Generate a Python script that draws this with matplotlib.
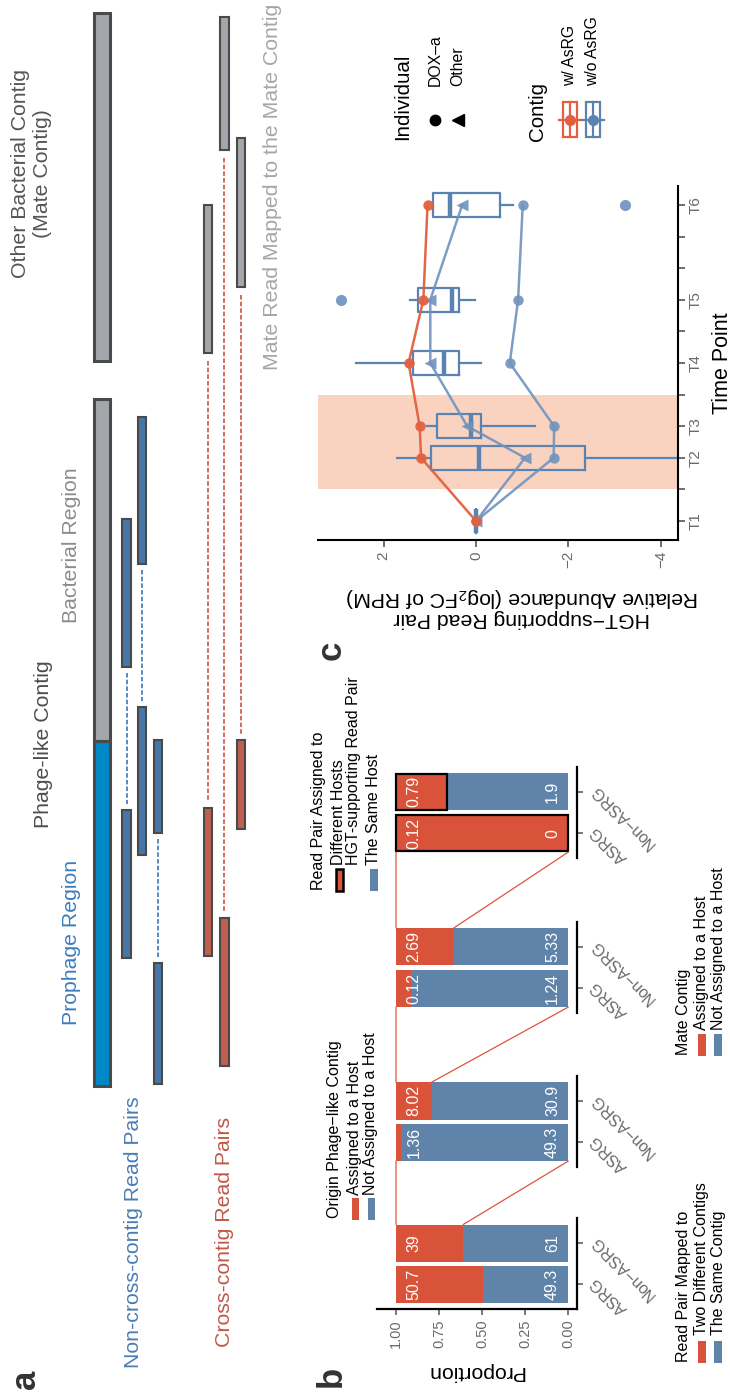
import matplotlib
matplotlib.use("Agg")
import matplotlib.pyplot as plt
from matplotlib.patches import Rectangle, ConnectionPatch

plt.rcParams['font.family'] = ['Liberation Sans', 'DejaVu Sans']
plt.rcParams['mathtext.fontset'] = 'custom'
plt.rcParams['mathtext.rm'] = 'Liberation Sans'
plt.rcParams['mathtext.it'] = 'Liberation Sans:italic'
plt.rcParams['mathtext.bf'] = 'Liberation Sans:bold'

# ---------------- Panel a : schematic (positions along the contigs) ----------------
mate_contig = (13, 361)
bacterial_region = (399, 741)
prophage_region = (741, 1086)
noncross_read1 = [(519, 667), (417, 564), (740, 833)]
noncross_read2 = [(810, 958), (707, 855), (963, 1084)]
cross_read = [(808, 956), (918, 1066), (740, 829)]
cross_mate = [(205, 353), (17, 150), (138, 287)]

# ---------------- Panel b ----------------
pair_groups = ['ASRG', 'Non−ASRG']
mapped_two_contigs = [50.7, 39]
mapped_same_contig = [49.3, 61]
origin_assigned = [1.36, 8.02]
origin_not_assigned = [49.3, 30.9]
mate_assigned = [0.12, 2.69]
mate_not_assigned = [1.24, 5.33]
hosts_different = [0.12, 0.79]
hosts_same = [0, 1.9]

# ---------------- Panel c ----------------
time_points = ['T1', 'T2', 'T3', 'T4', 'T5', 'T6']
time_days = [0, 2, 3, 5, 7, 10]
dox_with_asrg = [0, 1.19, 1.22, 1.46, 1.14, 1.05]
dox_without_asrg = [0, -1.68, -1.69, -0.73, -0.91, -1.01]
other_without_asrg = [0, -1.06, 0.19, 0.99, 0.99, 0.30]
box_whislo = [0, -4.8, -1.27, -0.11, 0.03, -0.81]
box_q1 = [0, -2.36, -0.11, 0.37, 0.37, -0.52]
box_med = [0, -0.06, 0.11, 0.70, 0.52, 0.57]
box_q3 = [0, 0.97, 0.84, 1.36, 1.25, 0.93]
box_whishi = [0, 1.72, 1.07, 2.60, 1.43, 0.93]
box_outliers = [[], [], [], [], [2.93], [-3.22]]
treatment_period = (1, 4)

# ---------------- styling ----------------
W, H = 730, 1394
EDGE = '#4A4A4A'
GRAY = '#A3A6AA'
PROPHAGE = '#0087C6'
READ_BLUE = '#4677A8'
READ_RED = '#BF5F4F'
DASH_BLUE = '#4B80BF'
DASH_RED = '#D0604F'
RED_B = '#D9533A'
BLUE_B = '#6083AA'
RED_C = '#E2603F'
BLUE_C = '#5A83B1'
BLUE_LINE = '#7093BE'
SHADE = '#FAD3C0'
TICKCOL = '#6A6A6A'

fig = plt.figure(figsize=(W / 100, H / 100), dpi=100)
fig.patch.set_facecolor('white')


def rect(x0, y0, x1, y1):
    return [x0 / W, 1 - y1 / H, (x1 - x0) / W, (y1 - y0) / H]


# ================= Panel a =================
axA = fig.add_axes([0, 0, 300 / W, 1])
axA.set_xlim(0, 300)
axA.set_ylim(H, 0)
axA.axis('off')

CONTIG_X, CONTIG_W = 101.9, 16
READ_W = 8.5


def seg(ax, xc, span, w, color, lw=1.5):
    ax.add_patch(Rectangle((xc - w / 2, span[0]), w, span[1] - span[0],
                           facecolor=color, edgecolor=EDGE, lw=lw))


seg(axA, CONTIG_X, mate_contig, CONTIG_W, GRAY, 2.2)
seg(axA, CONTIG_X, bacterial_region, CONTIG_W, GRAY, 2.2)
seg(axA, CONTIG_X, prophage_region, CONTIG_W, PROPHAGE, 2.2)

dash = (0, (2.5, 1.2))
for xc, r1, r2 in zip([126.7, 141.8, 158.0], noncross_read1, noncross_read2):
    axA.plot([xc, xc], [r1[1] + 6, r2[0] - 6], color=DASH_BLUE, lw=1.3, ls=dash)
    seg(axA, xc, r1, READ_W, READ_BLUE)
    seg(axA, xc, r2, READ_W, READ_BLUE)
for xc, rd, mt in zip([208.0, 224.3, 240.8], cross_read, cross_mate):
    axA.plot([xc, xc], [mt[1] + 8, rd[0] - 6], color=DASH_RED, lw=1.3, ls=dash)
    seg(axA, xc, rd, READ_W, READ_RED)
    seg(axA, xc, mt, READ_W, GRAY)

ta = dict(rotation=90, ha='center', va='center', fontsize=15.3)
axA.text(31.5, 173.5, 'Other Bacterial Contig\n(Mate Contig)', color='#555555',
         multialignment='center', linespacing=1.15, **ta)
axA.text(43.3, 744, 'Phage-like Contig', color='#4D4D4D', **ta)
axA.text(71.7, 545, 'Bacterial Region', color='#8C8C8C', **ta)
axA.text(71.7, 942, 'Prophage Region', color='#3C7DBE', **ta)
axA.text(273, 187, 'Mate Read Mapped to the Mate Contig', color='#A6A6A6', **ta)
axA.text(133.3, 1232, 'Non-cross-contig Read Pairs', color='#4A7DB5', **ta)
axA.text(224, 1232, 'Cross-contig Read Pairs', color='#C0584A', **ta)

# ================= Panel b =================
facets = [(mapped_two_contigs, mapped_same_contig),
          (origin_assigned, origin_not_assigned),
          (mate_assigned, mate_not_assigned),
          (hosts_different, hosts_same)]
facet_px = [(1218.3, 1309.3), (1076.0, 1167.3), (921.7, 1013.3), (766.7, 858.3)]
b_axes = []
blue_fracs = []
for i, ((red_vals, blue_vals), (top, bot)) in enumerate(zip(facets, facet_px)):
    ax = fig.add_axes(rect(376.7, top, 577.3, bot))
    ax.patch.set_alpha(0)
    ypos = list(range(len(pair_groups)))
    totals = [r + b for r, b in zip(red_vals, blue_vals)]
    bf = [b / t for b, t in zip(blue_vals, totals)]
    rf = [r / t for r, t in zip(red_vals, totals)]
    blue_fracs.append(bf)
    ax.barh(ypos, bf, left=0, height=0.9, color=BLUE_B, lw=0)
    if i == 3:
        ax.barh(ypos, rf, left=bf, height=0.87, color=RED_B, edgecolor='black', lw=1.6)
    else:
        ax.barh(ypos, rf, left=bf, height=0.9, color=RED_B, lw=0)
    for y, r, b in zip(ypos, red_vals, blue_vals):
        ax.text(0.897, y, '%.3g' % r, rotation=90, ha='center', va='center',
                color='white', fontsize=11.5)
        ax.text(0.092, y, '%.3g' % b, rotation=90, ha='center', va='center',
                color='white', fontsize=11.5)
    ax.set_xlim(1.112, -0.052)
    ax.set_ylim(-0.6, 1.6)
    for s in ['left', 'top']:
        ax.spines[s].set_visible(False)
    ax.spines['right'].set_linewidth(1.6)
    ax.yaxis.tick_right()
    ax.set_yticks(ypos)
    ax.set_yticklabels(pair_groups, rotation=135, ha='right', va='top',
                       rotation_mode='anchor', color=TICKCOL, fontsize=11.5)
    ax.tick_params(axis='y', length=4.5, width=1.1, color='#555555', pad=3)
    if i == 0:
        ax.spines['bottom'].set_linewidth(1.6)
        ax.set_xticks([0, 0.25, 0.5, 0.75, 1.0])
        ax.set_xticklabels(['0.00', '0.25', '0.50', '0.75', '1.00'], rotation=90,
                           color=TICKCOL, fontsize=10.5)
        ax.tick_params(axis='x', length=4.5, width=1.1, color='#555555', pad=3)
    else:
        ax.spines['bottom'].set_visible(False)
        ax.set_xticks([])
    b_axes.append(ax)

for i in range(3):
    for xa, xb in [(1.0, 1.0), (blue_fracs[i][1], 0.0)]:
        con = ConnectionPatch(xyA=(xa, 1.45), coordsA='data', axesA=b_axes[i],
                              xyB=(xb, -0.45), coordsB='data', axesB=b_axes[i + 1],
                              color='#E0533A', lw=0.9)
        fig.add_artist(con)

# ================= Panel c =================
axC = fig.add_axes(rect(318, 186, 678, 540))
axC.patch.set_alpha(0)
axC.axhspan(treatment_period[0], treatment_period[1], color=SHADE, lw=0, zorder=0)
stats = []
for lo, q1, md, q3, hi, fl in zip(box_whislo, box_q1, box_med, box_q3, box_whishi, box_outliers):
    stats.append(dict(whislo=lo, q1=q1, med=md, q3=q3, whishi=hi, fliers=fl, label=''))
bxp_kw = dict(positions=time_days, widths=0.77, showcaps=False, showfliers=True,
              patch_artist=False, manage_ticks=False,
              boxprops=dict(color=BLUE_C, lw=1.6),
              whiskerprops=dict(color=BLUE_C, lw=1.6),
              medianprops=dict(color=BLUE_C, lw=3.2),
              flierprops=dict(marker='o', markerfacecolor='#6A90BE', markeredgecolor='none',
                              markersize=8, alpha=0.9))
try:
    axC.bxp(stats, orientation='horizontal', **bxp_kw)
except TypeError:
    axC.bxp(stats, vert=False, **bxp_kw)

axC.plot(dox_without_asrg, time_days, color=BLUE_LINE, lw=1.8, marker='o', ms=7.5,
         mfc=BLUE_LINE, mec='none', alpha=0.9, zorder=3)
axC.plot(other_without_asrg, time_days, color=BLUE_LINE, lw=1.8, marker='<', ms=8.5,
         mfc=BLUE_LINE, mec='none', alpha=0.9, zorder=3)
axC.plot(dox_with_asrg, time_days, color=RED_C, lw=1.8, marker='o', ms=7.5,
         mfc=RED_C, mec='none', alpha=0.95, zorder=4)

axC.set_xlim(3.42, -4.37)
axC.set_ylim(-0.6, 10.6)
for s in ['left', 'top']:
    axC.spines[s].set_visible(False)
for s in ['right', 'bottom']:
    axC.spines[s].set_linewidth(1.5)
axC.set_xticks([-4, -2, 0, 2])
axC.set_xticklabels(['−4', '−2', '0', '2'], rotation=90, color=TICKCOL, fontsize=11)
day_ticks = list(range(min(time_days), max(time_days) + 1))
axC.yaxis.tick_right()
axC.set_yticks(day_ticks)
axC.set_yticklabels([time_points[time_days.index(d)] if d in time_days else '' for d in day_ticks],
                    rotation=90, color=TICKCOL, fontsize=11, va='center')
axC.tick_params(axis='both', length=5, width=1.2, color='#555555', pad=3)

# ================= overlay: titles, legends, labels =================
ov = fig.add_axes([0, 0, 1, 1], zorder=10)
ov.set_xlim(0, W)
ov.set_ylim(H, 0)
ov.axis('off')
ov.patch.set_alpha(0)

# panel letters
ov.text(25, 1379, 'a', rotation=90, ha='center', va='center', fontsize=25, fontweight='bold', color='#333333')
ov.text(331, 1376, 'b', rotation=90, ha='center', va='center', fontsize=25, fontweight='bold', color='#333333')
ov.text(331, 650, 'c', rotation=90, ha='center', va='center', fontsize=25, fontweight='bold', color='#333333')

# panel b axis title
ov.text(475, 1371.7, 'Proportion', rotation=180, ha='center', va='center', fontsize=15.3, color='black')

# panel b legends
LG = 11.5


def legend_b(title_x, start_y, entries, key_top, key_h=21.5):
    ov.text(title_x, start_y, entries[0], rotation=90, ha='center', va='bottom', fontsize=LG)
    for kx0, kx1, lx, ly, lab, col, edge in entries[1]:
        ov.add_patch(Rectangle((kx0, key_top), kx1 - kx0, key_h, facecolor=col,
                               edgecolor=edge if edge else 'none', lw=1.8 if edge else 0))
        ov.text(lx, ly, lab, rotation=90, ha='center', va='bottom', fontsize=LG)


legend_b(683.3, 1361.7, ('Read Pair Mapped to', [
    (698.3, 706, 701.7, 1335, 'Two Different Contigs', RED_B, None),
    (714.3, 722, 718.3, 1335, 'The Same Contig', BLUE_B, None)]), 1341)
legend_b(335, 1218, ('Origin Phage−like Contig', [
    (351.7, 359, 355, 1195, 'Assigned to a Host', RED_B, None),
    (367.7, 375, 370.7, 1195, 'Not Assigned to a Host', BLUE_B, None)]), 1198)
legend_b(683.3, 1055, ('Mate Contig', [
    (698.3, 706, 701.7, 1030, 'Assigned to a Host', RED_B, None),
    (714.3, 722, 718.3, 1030, 'Not Assigned to a Host', BLUE_B, None)]), 1034)
legend_b(318.3, 890, ('Read Pair Assigned to', [
    (336, 343, 338.3, 865, 'Different Hosts', RED_B, 'black'),
    (370, 378, 373.3, 865, 'The Same Host', BLUE_B, None)]), 869)
ov.text(353.3, 865, 'HGT-supporting Read Pair', rotation=90, ha='center', va='bottom', fontsize=LG)

# panel c axis titles
ov.text(722, 363, 'Time Point', rotation=90, ha='center', va='center', fontsize=15.5)
ov.text(522, 607, 'HGT−supporting Read Pair\nRelative Abundance (log$_2$FC of RPM)',
        rotation=180, ha='center', va='center', multialignment='center',
        linespacing=1.05, fontsize=15.3)

# panel c legends
ov.text(403, 140, 'Individual', rotation=90, ha='center', va='bottom', fontsize=14.8)
ov.plot([435], [119.5], marker='o', color='black', ms=7.5, ls='none')
ov.plot([458], [119.5], marker='<', color='black', ms=8.5, ls='none')
ov.text(435, 86, 'DOX–a', rotation=90, ha='center', va='bottom', fontsize=11.3)
ov.text(458, 86, 'Other', rotation=90, ha='center', va='bottom', fontsize=11.3)

ov.text(538, 141, 'Contig', rotation=90, ha='center', va='bottom', fontsize=14.8)
for xc, col, lab in [(569.5, RED_C, 'w/ AsRG'), (592.8, BLUE_C, 'w/o AsRG')]:
    yc = 119.5
    ov.add_patch(Rectangle((xc - 7, yc - 17.8), 14, 35.6, fill=False, edgecolor=col, lw=1.6))
    ov.plot([xc, xc], [yc - 17.8, yc + 17.8], color=col, lw=1.6)
    ov.plot([xc - 11, xc + 11], [yc, yc], color=col, lw=1.6)
    ov.plot([xc], [yc], marker='o', color=col, ms=7, ls='none')
    ov.text(xc, 86, lab, rotation=90, ha='center', va='bottom', fontsize=11.3)

fig.savefig('out.png', dpi=100)
